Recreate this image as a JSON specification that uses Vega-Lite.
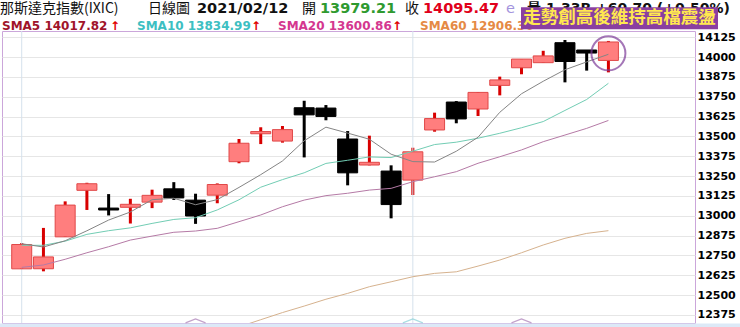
{
  "$schema": "https://vega.github.io/schema/vega-lite/v6.json",
  "width": 693,
  "height": 292,
  "autosize": {"type": "none"},
  "padding": {"left": 2, "top": 31, "right": 45, "bottom": 4},
  "background": "#ffffff",
  "config": {
    "view": {"stroke": "#CBA6DA", "strokeWidth": 1},
    "scale": {"continuousPadding": 0},
    "text": {"align": "left", "baseline": "middle"}
  },
  "resolve": {"axis": {"y": "independent"}},
  "datasets": {
    "k": [
      {"i": 1, "date": "2021-01-05", "open": 12665.65, "high": 12828.27, "low": 12665.65, "close": 12818.96, "sma5": 12823.84, "sma10": 12814, "sma20": 12675},
      {"i": 2, "date": "2021-01-06", "open": 12666.15, "high": 12923.64, "low": 12649.99, "close": 12740.79, "sma5": 12803.30, "sma10": 12814, "sma20": 12690},
      {"i": 3, "date": "2021-01-07", "open": 12867.34, "high": 13090.91, "low": 12867.34, "close": 13067.48, "sma5": 12842.79, "sma10": 12840, "sma20": 12726},
      {"i": 4, "date": "2021-01-08", "open": 13160.51, "high": 13208.09, "low": 13036.71, "close": 13201.98, "sma5": 12905.53, "sma10": 12883, "sma20": 12767},
      {"i": 5, "date": "2021-01-11", "open": 13048.64, "high": 13136.76, "low": 13002.18, "close": 13036.43, "sma5": 12973.13, "sma10": 12906, "sma20": 12805},
      {"i": 6, "date": "2021-01-12", "open": 13053.54, "high": 13107.16, "low": 12951.31, "close": 13072.43, "sma5": 13023.82, "sma10": 12924, "sma20": 12847},
      {"i": 7, "date": "2021-01-13", "open": 13086.14, "high": 13164.58, "low": 13048.35, "close": 13128.95, "sma5": 13101.45, "sma10": 12952, "sma20": 12872},
      {"i": 8, "date": "2021-01-14", "open": 13170, "high": 13212, "low": 13100, "close": 13112.64, "sma5": 13110.49, "sma10": 12977, "sma20": 12896},
      {"i": 9, "date": "2021-01-15", "open": 13098.74, "high": 13139.18, "low": 12949.14, "close": 12998.50, "sma5": 13069.79, "sma10": 12988, "sma20": 12904},
      {"i": 10, "date": "2021-01-19", "open": 13130, "high": 13204, "low": 13079, "close": 13197.18, "sma5": 13101.94, "sma10": 13037, "sma20": 12921, "sma60": 12262},
      {"i": 11, "date": "2021-01-20", "open": 13341, "high": 13484, "low": 13331, "close": 13457.25, "sma5": 13178.90, "sma10": 13101, "sma20": 12963, "sma60": 12300},
      {"i": 12, "date": "2021-01-21", "open": 13517, "high": 13558, "low": 13452, "close": 13530.91, "sma5": 13259.30, "sma10": 13180, "sma20": 13005, "sma60": 12345},
      {"i": 13, "date": "2021-01-22", "open": 13471, "high": 13566, "low": 13461, "close": 13543.06, "sma5": 13345.38, "sma10": 13228, "sma20": 13057, "sma60": 12390},
      {"i": 14, "date": "2021-01-25", "open": 13681, "high": 13725, "low": 13368, "close": 13635.99, "sma5": 13472.88, "sma10": 13271, "sma20": 13099, "sma60": 12431},
      {"i": 15, "date": "2021-01-26", "open": 13679, "high": 13698, "low": 13602, "close": 13626.06, "sma5": 13558.65, "sma10": 13330, "sma20": 13127, "sma60": 12474},
      {"i": 16, "date": "2021-01-27", "open": 13484, "high": 13534, "low": 13192, "close": 13270.60, "sma5": 13521.32, "sma10": 13350, "sma20": 13142, "sma60": 12511},
      {"i": 17, "date": "2021-01-28", "open": 13320, "high": 13505, "low": 13318, "close": 13337.16, "sma5": 13482.57, "sma10": 13371, "sma20": 13162, "sma60": 12553},
      {"i": 18, "date": "2021-01-29", "open": 13282, "high": 13318, "low": 12984, "close": 13070.69, "sma5": 13388.10, "sma10": 13367, "sma20": 13173, "sma60": 12584},
      {"i": 19, "date": "2021-02-01", "open": 13225, "high": 13429, "low": 13131, "close": 13403.39, "sma5": 13341.58, "sma10": 13407, "sma20": 13215, "sma60": 12616},
      {"i": 20, "date": "2021-02-02", "open": 13541, "high": 13650, "low": 13530, "close": 13612.78, "sma5": 13338.92, "sma10": 13449, "sma20": 13246, "sma60": 12637},
      {"i": 21, "date": "2021-02-03", "open": 13717, "high": 13723, "low": 13583, "close": 13610.54, "sma5": 13406.91, "sma10": 13464, "sma20": 13278, "sma60": 12647},
      {"i": 22, "date": "2021-02-04", "open": 13673, "high": 13780, "low": 13629, "close": 13777.74, "sma5": 13495.03, "sma10": 13489, "sma20": 13331, "sma60": 12683},
      {"i": 23, "date": "2021-02-05", "open": 13822, "high": 13877, "low": 13759, "close": 13856.30, "sma5": 13652.15, "sma10": 13520, "sma20": 13372, "sma60": 12721},
      {"i": 24, "date": "2021-02-08", "open": 13933, "high": 13986, "low": 13892, "close": 13987.64, "sma5": 13769.00, "sma10": 13555, "sma20": 13415, "sma60": 12767},
      {"i": 25, "date": "2021-02-09", "open": 13965, "high": 14040, "low": 13965, "close": 14007.70, "sma5": 13847.98, "sma10": 13594, "sma20": 13467, "sma60": 12816},
      {"i": 26, "date": "2021-02-10", "open": 14091, "high": 14108, "low": 13841, "close": 13972.53, "sma5": 13920.38, "sma10": 13664, "sma20": 13509, "sma60": 12858},
      {"i": 27, "date": "2021-02-11", "open": 14045, "high": 14045, "low": 13915, "close": 14025.77, "sma5": 13969.99, "sma10": 13733, "sma20": 13551, "sma60": 12889},
      {"i": 28, "date": "2021-02-12", "open": 13979.21, "high": 14102, "low": 13904, "close": 14095.47, "sma5": 14017.82, "sma10": 13834.99, "sma20": 13600.86, "sma60": 12906.3}
    ],
    "monthStart": [{"i": 1}, {"i": 19}],
    "crossMarks": [
      {"i": 9, "cross": "SMA20"},
      {"i": 19, "cross": "SMA10"},
      {"i": 24, "cross": "SMA20"}
    ]
  },
  "layer": [
    {
      "data": {"name": "k"},
      "mark": {"type": "rule", "strokeWidth": 3},
      "encoding": {
        "x": {"field": "i", "type": "quantitative", "scale": {"domain": [0.093, 31.985], "nice": false, "zero": false}, "axis": null},
        "y": {"field": "low", "type": "quantitative", "title": null, "scale": {"domain": [12324.3, 14164.7], "nice": false, "zero": false},
          "axis": {"orient": "right", "title": null, "format": "d", "values": [12375, 12500, 12625, 12750, 12875, 13000, 13125, 13250, 13375, 13500, 13625, 13750, 13875, 14000, 14125],
            "grid": true, "gridColor": "#E6E6E6", "gridWidth": 1, "domain": false, "ticks": false, "tickSize": 0,
            "labelPadding": 2, "labelFont": "DejaVu Sans", "labelFontWeight": "bold", "labelFontSize": 11, "labelColor": "#000000",
            "labelFlush": false, "labelOverlap": false, "labelSeparation": 0, "labelBaseline": "middle"}},
        "y2": {"field": "high"},
        "color": {"condition": {"test": "datum.close >= datum.open", "value": "#D80000"}, "value": "#000000"}
      }
    },
    {
      "data": {"values": [{}]},
      "mark": {"type": "rect", "fill": "#DCE9F7"},
      "encoding": {
        "x": {"datum": 0, "type": "quantitative", "axis": null},
        "x2": {"datum": 34.2},
        "y": {"datum": 12321.5, "type": "quantitative", "axis": null},
        "y2": {"datum": 12290}
      }
    },
    {
      "data": {"name": "monthStart"},
      "mark": {"type": "rule", "color": "#D5E1EC", "strokeWidth": 1},
      "encoding": {
        "x": {"field": "i", "type": "quantitative", "axis": null}
      }
    },
    {
      "data": {"name": "k"},
      "mark": {"type": "bar", "width": 20, "strokeWidth": 1},
      "encoding": {
        "x": {"field": "i", "type": "quantitative", "axis": null},
        "y": {"field": "open", "type": "quantitative", "axis": null},
        "y2": {"field": "close"},
        "fill": {"condition": {"test": "datum.close >= datum.open", "value": "#FF7E7E"}, "value": "#000000"},
        "stroke": {"condition": {"test": "datum.close >= datum.open", "value": "#E04848"}, "value": "#000000"}
      }
    },
    {
      "data": {"name": "k"},
      "mark": {"type": "line", "strokeWidth": 1, "color": "#D6B28E", "clip": true},
      "encoding": {
        "x": {"field": "i", "type": "quantitative", "axis": null},
        "y": {"field": "sma60", "type": "quantitative", "axis": null}
      }
    },
    {
      "data": {"name": "k"},
      "mark": {"type": "line", "strokeWidth": 1, "color": "#B57AA6", "clip": true},
      "encoding": {
        "x": {"field": "i", "type": "quantitative", "axis": null},
        "y": {"field": "sma20", "type": "quantitative", "axis": null}
      }
    },
    {
      "data": {"name": "k"},
      "mark": {"type": "line", "strokeWidth": 1, "color": "#72CDB4", "clip": true},
      "encoding": {
        "x": {"field": "i", "type": "quantitative", "axis": null},
        "y": {"field": "sma10", "type": "quantitative", "axis": null}
      }
    },
    {
      "data": {"name": "k"},
      "mark": {"type": "line", "strokeWidth": 1, "color": "#858585", "clip": true},
      "encoding": {
        "x": {"field": "i", "type": "quantitative", "axis": null},
        "y": {"field": "sma5", "type": "quantitative", "axis": null}
      }
    },
    {
      "data": {"name": "crossMarks"},
      "mark": {"type": "point", "shape": "M-1,0L0,-0.4L1,0", "size": 400, "filled": false, "strokeWidth": 1.2},
      "encoding": {
        "x": {"field": "i", "type": "quantitative", "axis": null},
        "y": {"datum": 12325, "type": "quantitative", "axis": null},
        "color": {"field": "cross", "type": "nominal", "scale": {"domain": ["SMA10", "SMA20"], "range": ["#86CFD6", "#A97BB5"]}, "legend": null}
      }
    },
    {
      "data": {"values": [{}]},
      "mark": {"type": "point", "shape": "circle", "size": 1156, "filled": false, "stroke": "#7E3D99", "strokeWidth": 2},
      "encoding": {
        "x": {"datum": 28, "type": "quantitative", "axis": null},
        "y": {"datum": 14024, "type": "quantitative", "axis": null}
      }
    },
    {
      "data": {"values": [{}]},
      "layer": [
        {"mark": {"type": "text", "text": "那斯達克指數(IXIC)", "font": "Noto Sans CJK TC", "fontSize": 14, "fill": "#111111"},
         "encoding": {"x": {"datum": 0, "axis": null}, "y": {"datum": 14303.4, "axis": null}}},
        {"mark": {"type": "text", "text": "日線圖", "font": "Noto Sans CJK TC", "fontSize": 14, "fill": "#111111"},
         "encoding": {"x": {"datum": 6.812, "axis": null}, "y": {"datum": 14303.4, "axis": null}}},
        {"mark": {"type": "text", "text": "2021/02/12", "font": "DejaVu Sans", "fontWeight": "bold", "fontSize": 14.5, "fill": "#111111"},
         "encoding": {"x": {"datum": 9.067, "axis": null}, "y": {"datum": 14303.4, "axis": null}}},
        {"mark": {"type": "text", "text": "開", "font": "Noto Sans CJK TC", "fontSize": 14, "fill": "#111111"},
         "encoding": {"x": {"datum": 13.899, "axis": null}, "y": {"datum": 14303.4, "axis": null}}},
        {"mark": {"type": "text", "text": "13979.21", "font": "DejaVu Sans", "fontWeight": "bold", "fontSize": 14.5, "fill": "#2F9A2F"},
         "encoding": {"x": {"datum": 14.727, "axis": null}, "y": {"datum": 14303.4, "axis": null}}},
        {"mark": {"type": "text", "text": "收", "font": "Noto Sans CJK TC", "fontSize": 14, "fill": "#111111"},
         "encoding": {"x": {"datum": 18.639, "axis": null}, "y": {"datum": 14303.4, "axis": null}}},
        {"mark": {"type": "text", "text": "14095.47", "font": "DejaVu Sans", "fontWeight": "bold", "fontSize": 14.5, "fill": "#E1001A"},
         "encoding": {"x": {"datum": 19.467, "axis": null}, "y": {"datum": 14303.4, "axis": null}}},
        {"mark": {"type": "text", "text": "e", "font": "DejaVu Sans", "fontSize": 14.5, "fill": "#A393DD"},
         "encoding": {"x": {"datum": 23.287, "axis": null}, "y": {"datum": 14303.4, "axis": null}}},
        {"mark": {"type": "text", "text": "量 1.33B  +60.70 (+0.50%)", "font": "DejaVu Sans, Noto Sans CJK TC", "fontWeight": "bold", "fontSize": 14, "fill": "#111111"},
         "encoding": {"x": {"datum": 24.254, "axis": null}, "y": {"datum": 14303.4, "axis": null}}},
        {"mark": {"type": "text", "text": "SMA5 14017.82", "font": "DejaVu Sans", "fontWeight": "bold", "fontSize": 12, "fill": "#A0142A"},
         "encoding": {"x": {"datum": 0.093, "axis": null}, "y": {"datum": 14196.2, "axis": null}}},
        {"mark": {"type": "text", "text": "↑", "font": "DejaVu Sans", "fontWeight": "bold", "fontSize": 12, "fill": "#E00000"},
         "encoding": {"x": {"datum": 5.063, "axis": null}, "y": {"datum": 14196.2, "axis": null}}},
        {"mark": {"type": "text", "text": "SMA10 13834.99", "font": "DejaVu Sans", "fontWeight": "bold", "fontSize": 12, "fill": "#3DBFC2"},
         "encoding": {"x": {"datum": 6.306, "axis": null}, "y": {"datum": 14196.2, "axis": null}}},
        {"mark": {"type": "text", "text": "↑", "font": "DejaVu Sans", "fontWeight": "bold", "fontSize": 12, "fill": "#E00000"},
         "encoding": {"x": {"datum": 11.552, "axis": null}, "y": {"datum": 14196.2, "axis": null}}},
        {"mark": {"type": "text", "text": "SMA20 13600.86", "font": "DejaVu Sans", "fontWeight": "bold", "fontSize": 12, "fill": "#D4378F"},
         "encoding": {"x": {"datum": 12.794, "axis": null}, "y": {"datum": 14196.2, "axis": null}}},
        {"mark": {"type": "text", "text": "↑", "font": "DejaVu Sans", "fontWeight": "bold", "fontSize": 12, "fill": "#E00000"},
         "encoding": {"x": {"datum": 18.04, "axis": null}, "y": {"datum": 14196.2, "axis": null}}},
        {"mark": {"type": "text", "text": "SMA60 12906.30", "font": "DejaVu Sans", "fontWeight": "bold", "fontSize": 12, "fill": "#E58A45"},
         "encoding": {"x": {"datum": 19.33, "axis": null}, "y": {"datum": 14196.2, "axis": null}}},
        {"mark": {"type": "rect", "fill": "#8A3FA0"},
         "encoding": {"x": {"datum": 23.977, "axis": null}, "x2": {"datum": 33.043}, "y": {"datum": 14314.1, "axis": null}, "y2": {"datum": 14175.4}}},
        {"mark": {"type": "text", "text": "走勢創高後維持高檔震盪", "align": "center", "font": "Noto Sans CJK TC", "fontWeight": "bold", "fontSize": 17.5, "fill": "#FFE84F"},
         "encoding": {"x": {"datum": 28.51, "axis": null}, "y": {"datum": 14244.8, "axis": null}}}
      ]
    }
  ]
}
